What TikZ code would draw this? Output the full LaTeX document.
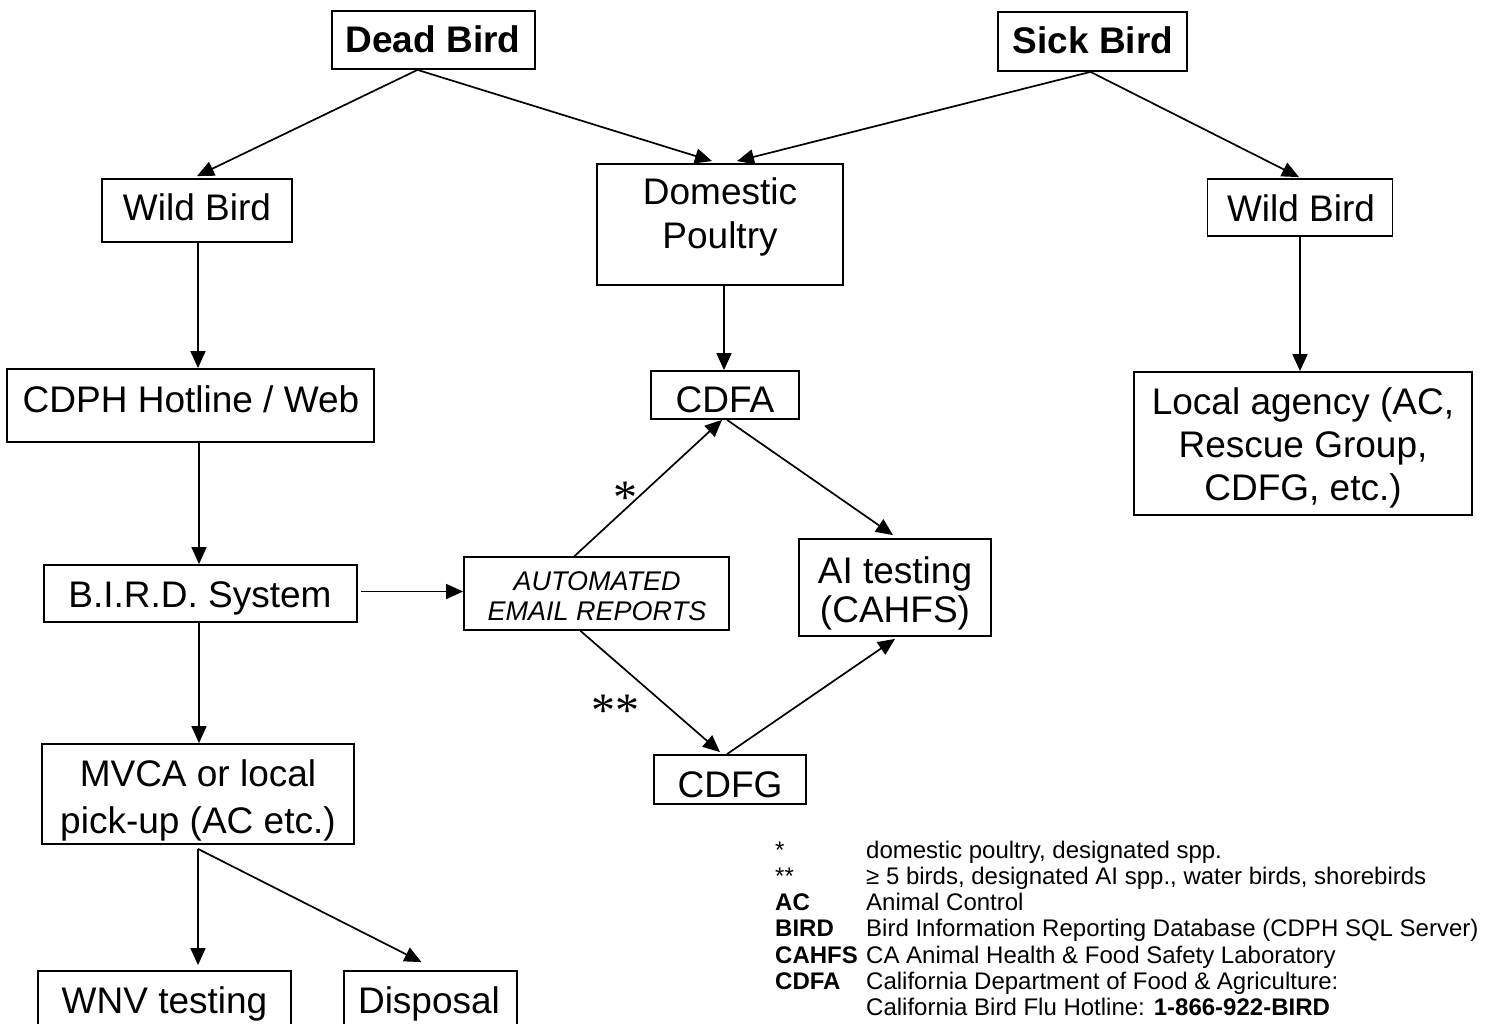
\documentclass[tikz,border=0pt]{standalone}
\usepackage{fontspec}
\setmainfont{Liberation Sans}
\newfontfamily\astfont{Liberation Serif}
\usetikzlibrary{arrows.meta,calc}
\begin{document}
\begin{tikzpicture}[x=1pt,y=-1pt,
  box/.style={draw,line width=1.8pt,inner sep=0pt},
  tx/.style={inner sep=0pt,anchor=base,font=\fontsize{37}{44}\selectfont},
  btx/.style={inner sep=0pt,anchor=base,font=\fontsize{37}{44}\selectfont\bfseries},
  itx/.style={inner sep=0pt,anchor=base,font=\fontsize{27}{30}\selectfont\itshape},
  ast/.style={inner sep=0pt,anchor=base,font=\fontsize{48}{50}\astfont},
  arr/.style={line width=1.7pt,-{Triangle[length=17pt,width=15pt]}}]
\useasboundingbox (0,0) rectangle (1492,1024);
\clip (0,0) rectangle (1492,1024);
\fill[white] (0,0) rectangle (1492,1024);
% boxes
\node[box,minimum width=203pt,minimum height=58pt] (dead) at (433.5,40) {};
\node[box,minimum width=189pt,minimum height=59pt] (sick) at (1092.5,41.5) {};
\node[box,minimum width=190pt,minimum height=63pt] (wildL) at (197,210.5) {};
\node[box,minimum width=246pt,minimum height=121pt] (dom) at (720,224.5) {};
\node[box,minimum width=185pt,minimum height=57pt] (wildR) at (1300,207.5) {};
\node[box,minimum width=367pt,minimum height=73pt] (cdph) at (190.5,405.5) {};
\node[box,minimum width=148pt,minimum height=48pt] (cdfa) at (725,395) {};
\node[box,minimum width=338pt,minimum height=143pt] (local) at (1303,443.5) {};
\node[box,minimum width=313pt,minimum height=57pt] (bird) at (200.5,593.5) {};
\node[box,minimum width=265pt,minimum height=73pt] (auto) at (596.5,593.5) {};
\node[box,minimum width=192pt,minimum height=97pt] (ai) at (895,587.5) {};
\node[box,minimum width=152pt,minimum height=49pt] (cdfg) at (730,779.5) {};
\node[box,minimum width=312pt,minimum height=100pt] (mvca) at (198,794) {};
\node[box,minimum width=253pt,minimum height=89pt] (wnv) at (164.5,1015.5) {};
\node[box,minimum width=173pt,minimum height=89pt] (disp) at (430.5,1015.5) {};
% texts
\node[btx] (tdead) at (433,53) {Dead Bird};
\node[btx] (tsick) at (1093,54) {Sick Bird};
\node[tx] (twildL) at (197,221) {Wild Bird};
\node[tx] (tdom1) at (720,205) {Domestic};
\node[tx] (tdom2) at (720,249) {Poultry};
\node[tx] (twildR) at (1301,222) {Wild Bird};
\node[tx] (tcdph) at (191,412) {CDPH Hotline / Web};
\node[tx] (tcdfa) at (725,413) {CDFA};
\node[tx] (tloc1) at (1303,414) {Local agency (AC,};
\node[tx] (tloc2) at (1303,457) {Rescue Group,};
\node[tx] (tloc3) at (1303,500) {CDFG, etc.)};
\node[tx] (tbird) at (200,607) {B.I.R.D. System};
\node[itx] (tauto1) at (597,590) {AUTOMATED};
\node[itx] (tauto2) at (597,620) {EMAIL REPORTS};
\node[tx] (tai1) at (895,583) {AI testing};
\node[tx] (tai2) at (895,622) {(CAHFS)};
\node[tx] (tcdfg) at (730,797) {CDFG};
\node[tx] (tmvca1) at (198,786) {MVCA or local};
\node[tx] (tmvca2) at (198,833) {pick-up (AC etc.)};
\node[tx] (twnv) at (164.5,1013) {WNV testing};
\node[tx] (tdisp) at (429,1013) {Disposal};
\node[ast] (ast1) at (625,513) {*};
\node[ast] (ast2) at (615,726) {**};
% legend
\node[anchor=base west,inner sep=0pt,font=\fontsize{24}{26.3}\selectfont] (legend) at (775,858) {\begin{tabular}[t]{@{}p{91pt}@{}l@{}}
{*} & domestic poultry, designated spp.\\
{**} & ≥ 5 birds, designated AI spp., water birds, shorebirds\\
\textbf{AC} & Animal Control\\
\textbf{BIRD} & Bird Information Reporting Database (CDPH SQL Server)\\
\textbf{CAHFS} & CA Animal Health \& Food Safety Laboratory\\
\textbf{CDFA} & California Department of Food \& Agriculture:\\
{} & California Bird Flu Hotline: \textbf{1-866-922-BIRD}
\end{tabular}};
% connectors
\draw[arr] ([xshift=-16pt]dead.south) -- ([yshift=2pt]wildL.north);
\draw[arr] ([xshift=-16pt]dead.south) -- ([xshift=-8pt,yshift=2pt]dom.north);
\draw[arr] ([xshift=-2pt]sick.south) -- ([xshift=17pt,yshift=2pt]dom.north);
\draw[arr] ([xshift=-2pt]sick.south) -- ([xshift=-1pt,yshift=1pt]wildR.north);
\draw[arr] ([xshift=1pt]wildL.south) -- ([xshift=1pt]wildL.south |- cdph.north);
\draw[arr] ([xshift=-1.5pt]bird.north |- cdph.south) -- ([xshift=-1.5pt]bird.north);
\draw[arr] ([xshift=-1.5pt]bird.south) -- ([xshift=-1.5pt]bird.south |- mvca.north);
\draw[arr] ([xshift=3pt,yshift=2pt]bird.east) -- ([yshift=2pt]auto.west);
\draw[arr] ([yshift=-4pt]mvca.south) -- ([yshift=5pt]mvca.south |- wnv.north);
\draw[arr] ([yshift=-4pt]mvca.south) -- ([xshift=-9pt,yshift=8pt]disp.north);
\draw[arr] ([xshift=4pt]dom.south) -- ([xshift=4pt]dom.south |- cdfa.north);
\draw[arr] (wildR.south) -- (wildR.south |- local.north);
\draw[arr] ([xshift=-22pt]auto.north) -- ([xshift=-3pt]cdfa.south);
\draw[arr] ([xshift=2pt]cdfa.south) -- ([xshift=-2pt,yshift=3pt]ai.north);
\draw[arr] ([xshift=-16pt]auto.south) -- ([xshift=-10pt,yshift=2pt]cdfg.north);
\draw[arr] ([xshift=-3pt]cdfg.north) -- ([yshift=-2pt]ai.south);
\end{tikzpicture}
\end{document}
